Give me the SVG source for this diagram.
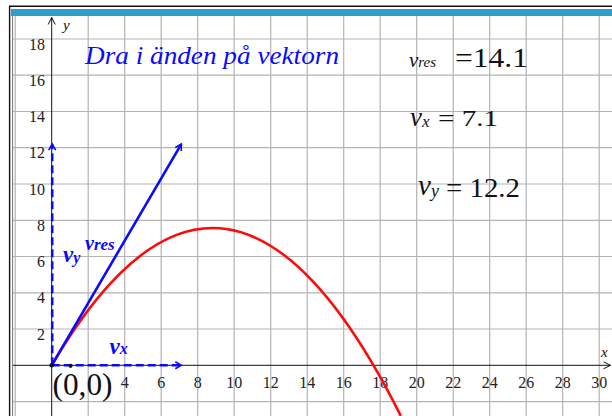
<svg xmlns="http://www.w3.org/2000/svg" width="612" height="416" viewBox="0 0 612 416">
<style>
.grid line{stroke:#b3b3b3;stroke-width:1.2}
.axis{stroke:#111;stroke-width:1;fill:none}
.tick{font-size:16px;fill:#222}
.vec{stroke:#0a0aff;stroke-width:2.6;fill:none}
.dash{stroke-dasharray:8 4}
.blue{fill:#0a0aff;font-style:italic}
.bl{font-weight:bold}
.read{fill:#111}
.it{font-style:italic}
</style>
<defs>
<marker id="ah" markerUnits="userSpaceOnUse" viewBox="-8 -5 10 10" refX="0" refY="0" markerWidth="10" markerHeight="10" orient="auto">
<path d="M-6,-3.5 L0,0 L-6,3.5" fill="none" stroke="#0a0aff" stroke-width="1.6"/>
</marker>
</defs>
<rect width="612" height="416" fill="#fff"/>
<g id="frame">
<line x1="9" y1="6.2" x2="612" y2="6.2" stroke="#111" stroke-width="1.4"/>
<line x1="9.6" y1="6" x2="9.6" y2="416" stroke="#111" stroke-width="1.4"/>
<rect x="11" y="9" width="601" height="7" fill="#2f9fc9"/>
<line x1="12.6" y1="16" x2="12.6" y2="416" stroke="#777" stroke-width="1"/>
</g>
<g id="grid" class="grid">
<line x1="15.2" y1="16" x2="15.2" y2="416"/>
<line x1="88.2" y1="16" x2="88.2" y2="416"/>
<line x1="124.7" y1="16" x2="124.7" y2="416"/>
<line x1="161.2" y1="16" x2="161.2" y2="416"/>
<line x1="197.7" y1="16" x2="197.7" y2="416"/>
<line x1="234.2" y1="16" x2="234.2" y2="416"/>
<line x1="270.7" y1="16" x2="270.7" y2="416"/>
<line x1="307.2" y1="16" x2="307.2" y2="416"/>
<line x1="343.7" y1="16" x2="343.7" y2="416"/>
<line x1="380.2" y1="16" x2="380.2" y2="416"/>
<line x1="416.7" y1="16" x2="416.7" y2="416"/>
<line x1="453.2" y1="16" x2="453.2" y2="416"/>
<line x1="489.7" y1="16" x2="489.7" y2="416"/>
<line x1="526.2" y1="16" x2="526.2" y2="416"/>
<line x1="562.7" y1="16" x2="562.7" y2="416"/>
<line x1="599.2" y1="16" x2="599.2" y2="416"/>
<line x1="13" y1="39" x2="612" y2="39"/>
<line x1="13" y1="75.2" x2="612" y2="75.2"/>
<line x1="13" y1="111.5" x2="612" y2="111.5"/>
<line x1="13" y1="147.7" x2="612" y2="147.7"/>
<line x1="13" y1="184" x2="612" y2="184"/>
<line x1="13" y1="220.3" x2="612" y2="220.3"/>
<line x1="13" y1="256.5" x2="612" y2="256.5"/>
<line x1="13" y1="292.8" x2="612" y2="292.8"/>
<line x1="13" y1="329" x2="612" y2="329"/>
<line x1="13" y1="401.6" x2="612" y2="401.6"/>
</g>
<g id="axes" font-family="'Liberation Serif', 'DejaVu Serif', serif">
<line class="axis" x1="51.7" y1="416" x2="51.7" y2="17.5"/>
<path class="axis" d="M48.2,24.5 L51.7,17.5 L55.2,24.5"/>
<line class="axis" x1="13" y1="365.3" x2="610.5" y2="365.3"/>
<path class="axis" d="M603.5,361.8 L610.5,365.3 L603.5,368.8"/>
<text x="63" y="30" class="read it" font-size="15">y</text>
<text x="601" y="357" class="read it" font-size="15">x</text>
</g>
<g id="ticks" class="tick" font-family="'Liberation Serif', 'DejaVu Serif', serif">
<g text-anchor="end">
<text x="45" y="49.5">18</text>
<text x="45" y="85.7">16</text>
<text x="45" y="122">14</text>
<text x="45" y="158.2">12</text>
<text x="45" y="194.5">10</text>
<text x="45" y="230.8">8</text>
<text x="45" y="267">6</text>
<text x="45" y="303.3">4</text>
<text x="45" y="339.5">2</text>
</g>
<g text-anchor="middle">
<text x="124.7" y="388">4</text>
<text x="161.2" y="388">6</text>
<text x="197.7" y="388">8</text>
<text x="234.2" y="388">10</text>
<text x="270.7" y="388">12</text>
<text x="307.2" y="388">14</text>
<text x="343.7" y="388">16</text>
<text x="380.2" y="388">18</text>
<text x="416.7" y="388">20</text>
<text x="453.2" y="388">22</text>
<text x="489.7" y="388">24</text>
<text x="526.2" y="388">26</text>
<text x="562.7" y="388">28</text>
<text x="599.2" y="388">30</text>
</g>
</g>
<g id="connectors">
<path id="trajectory" d="M51.7,365.3 Q226.3,67.4 400.8,415.9" fill="none" stroke="#ff0a0a" stroke-width="2.6"/>
<line id="vres" class="vec" x1="51.7" y1="365.3" x2="181.3" y2="144.1" marker-end="url(#ah)"/>
<line id="vy" class="vec dash" x1="52.2" y1="365.3" x2="52.2" y2="144.1" marker-end="url(#ah)"/>
<line id="vx" class="vec dash" x1="51.7" y1="365.3" x2="181.3" y2="365.3" marker-end="url(#ah)"/>
</g>
<g id="points">
<circle cx="51.7" cy="365.3" r="2.3" fill="#111"/>
<circle cx="70.6" cy="365.8" r="2.1" fill="#111"/>
</g>
<g id="origin-label" font-family="'Liberation Serif', 'DejaVu Serif', serif">
<text x="52.5" y="395" class="read" font-size="31" textLength="60" lengthAdjust="spacingAndGlyphs">(0,0)</text>
</g>
<g id="vector-labels" font-family="'Liberation Serif', 'DejaVu Serif', serif">
<text class="blue bl" y="249.5"><tspan x="85" font-size="20">v</tspan><tspan font-size="17">res</tspan></text>
<text class="blue bl" y="261.5"><tspan x="63" font-size="23">v</tspan><tspan font-size="16" dy="1">y</tspan></text>
<text class="blue bl" y="354"><tspan x="109.5" font-size="23">v</tspan><tspan font-size="16">x</tspan></text>
</g>
<g id="title" font-family="'Liberation Serif', 'DejaVu Serif', serif">
<text x="85" y="64" class="blue" font-size="26" textLength="254" lengthAdjust="spacingAndGlyphs">Dra i änden på vektorn</text>
</g>
<g id="readouts" font-family="'Liberation Serif', 'DejaVu Serif', serif">
<text class="read it" y="67"><tspan x="409" font-size="21">v</tspan><tspan font-size="15">res</tspan></text>
<text class="read" x="455" y="67" font-size="27" textLength="73" lengthAdjust="spacingAndGlyphs">=14.1</text>
<text class="read it" y="126"><tspan x="410" font-size="27">v</tspan><tspan font-size="17" dy="1">x</tspan></text>
<text class="read" x="438" y="126" font-size="23" textLength="60" lengthAdjust="spacingAndGlyphs">= 7.1</text>
<text class="read it" y="195"><tspan x="418" font-size="29">v</tspan><tspan font-size="18" dy="2">y</tspan></text>
<text class="read" x="446" y="197" font-size="27" textLength="74" lengthAdjust="spacingAndGlyphs">= 12.2</text>
</g>
</svg>
